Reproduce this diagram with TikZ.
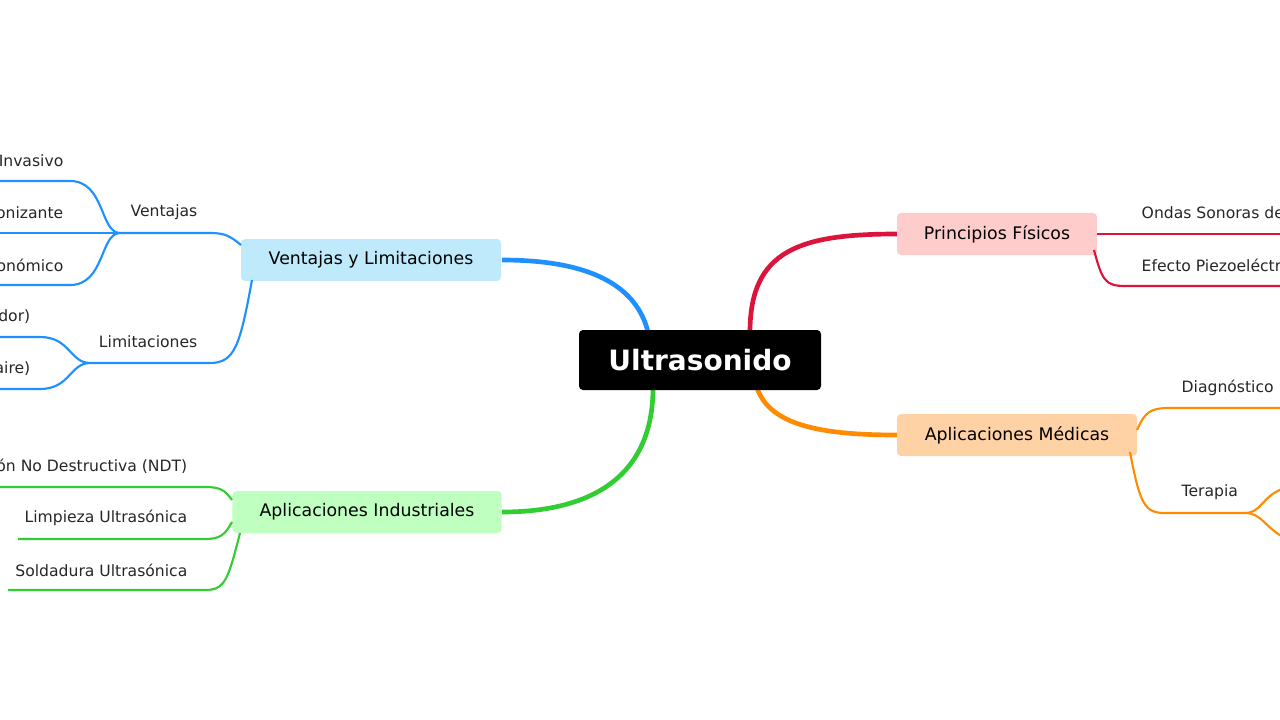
\documentclass[tikz,border=0pt]{standalone}
\usepackage{fontspec}
\setmainfont{DejaVu Sans}
\usetikzlibrary{positioning}
\definecolor{cred}{HTML}{DC143C}
\definecolor{corange}{HTML}{FF8C00}
\definecolor{cblue}{HTML}{1E90FF}
\definecolor{cgreen}{HTML}{32CD32}
\tikzset{
  main/.style={fill=black,text=white,rounded corners=3pt,font=\fontsize{21}{24}\selectfont\bfseries,minimum width=181.5pt,minimum height=45pt},
  branch/.style={rounded corners=3pt,font=\fontsize{13}{15}\selectfont,minimum height=31.5pt},
  leaf/.style={font=\fontsize{11.7}{13}\selectfont,text=black!85},
  thick link/.style={line width=3.5pt},
  thin link/.style={line width=1.6pt}
}
\begin{document}
\begin{tikzpicture}[x=0.75pt,y=-0.75pt]
 \useasboundingbox (0,0) rectangle (1280,720);
 \clip (0,0) rectangle (1280,720);
 % main branches
 \draw [cred,thick link] (750,332) .. controls (750,250) and (800,234) .. (897,234);
 \draw [corange,thick link] (757,388) .. controls (770,425) and (820,435) .. (897,435);
 \draw [cblue,thick link] (648,332) .. controls (635,280) and (580,260) .. (502,260);
 \draw [cgreen,thick link] (653,388) .. controls (653,470) and (600,512) .. (502,512);
 \node [main] (root) at (700,360) {Ultrasonido};
 \node [branch,fill=red!20,minimum width=150pt] (fis) at (997,234) {Principios Físicos};
 \node [branch,fill=orange!35,minimum width=180pt] (med) at (1017,435) {Aplicaciones Médicas};
 \node [branch,fill=cyan!25,minimum width=195pt] (ven) at (371,260) {Ventajas y Limitaciones};
 \node [branch,fill=green!25,minimum width=202pt] (ind) at (367,512) {Aplicaciones Industriales};
 % principios
 \draw [cred,thin link] (1097,234) -- (1280,234);
 \draw [cred,thin link] (1094,250) .. controls (1102,280) and (1105,286) .. (1125,286) -- (1280,286);
 \node [leaf,anchor=west] (ondas) at (1137,213) {Ondas Sonoras de};
 \node [leaf,anchor=west] (piezo) at (1137,265) {Efecto Piezoeléctr};
 % medicas
 \draw [corange,thin link] (1137,430) .. controls (1145,412) and (1150,408) .. (1170,408) -- (1280,408);
 \draw [corange,thin link] (1130,452) .. controls (1140,505) and (1145,513) .. (1165,513) -- (1245,513);
 \draw [corange,thin link] (1245,513) .. controls (1262,513) and (1262,495) .. (1285,488);
 \draw [corange,thin link] (1245,513) .. controls (1262,513) and (1265,528) .. (1285,538);
 \node [leaf,anchor=west] (diag) at (1177,388) {Diagnóstico};
 \node [leaf,anchor=west] (ter) at (1177,492) {Terapia};
 % ventajas
 \draw [cblue,thin link] (241,245) .. controls (230,236) and (225,233) .. (210,233) -- (120,233);
 \draw [cblue,thin link] (120,233) .. controls (100,233) and (105,181) .. (70,181) -- (0,181);
 \draw [cblue,thin link] (120,233) -- (0,233);
 \draw [cblue,thin link] (120,233) .. controls (100,233) and (105,285) .. (70,285) -- (0,285);
 \draw [cblue,thin link] (252,280) .. controls (240,345) and (235,363) .. (210,363) -- (90,363);
 \draw [cblue,thin link] (90,363) .. controls (70,363) and (70,337) .. (40,337) -- (0,337);
 \draw [cblue,thin link] (90,363) .. controls (70,363) and (70,389) .. (40,389) -- (0,389);
 \node [leaf,anchor=east] (vt) at (202,212) {Ventajas};
 \node [leaf,anchor=east] (lim) at (202,342) {Limitaciones};
 \node [leaf,anchor=east] (v1) at (68,161) {Invasivo};
 \node [leaf,anchor=east] (v2) at (68,213) {onizante};
 \node [leaf,anchor=east] (v3) at (68,265) {onómico};
 \node [leaf,anchor=east] (l1) at (35,317) {dor)};
 \node [leaf,anchor=east] (l2) at (35,369) {aire)};
 % industriales
 \draw [cgreen,thin link] (232,500) .. controls (225,490) and (220,487) .. (205,487) -- (0,487);
 \draw [cgreen,thin link] (232,522) .. controls (225,535) and (220,539) .. (205,539) -- (18,539);
 \draw [cgreen,thin link] (240,533) .. controls (228,580) and (225,590) .. (205,590) -- (8,590);
 \node [leaf,anchor=east] (i1) at (192,466) {ón No Destructiva (NDT)};
 \node [leaf,anchor=east] (i2) at (192,518) {Limpieza Ultrasónica};
 \node [leaf,anchor=east] (i3) at (192,570) {Soldadura Ultrasónica};
\end{tikzpicture}
\end{document}
